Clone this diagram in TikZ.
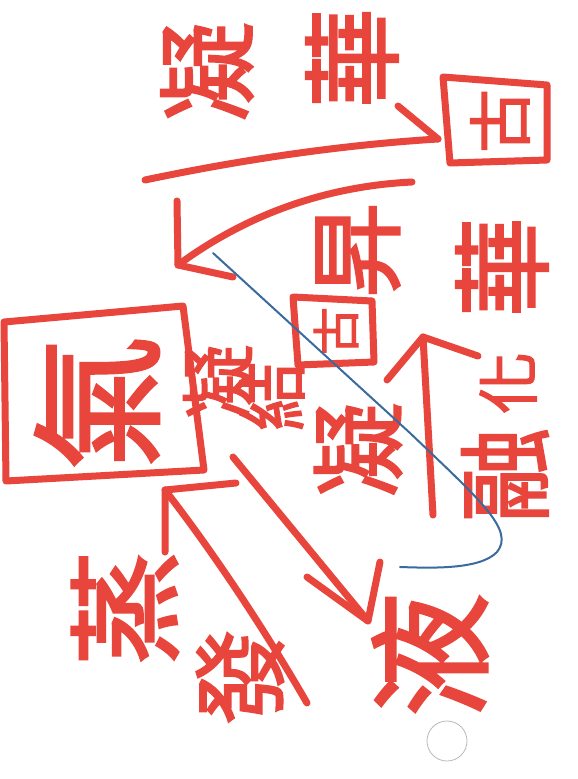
\documentclass[tikz,border=0pt]{standalone}
\usepackage{fontspec}
\newfontfamily\cjk[FakeBold=2]{Noto Sans CJK TC}
\definecolor{pen}{HTML}{E8453C}
\definecolor{bluepen}{HTML}{3A6B9C}
\begin{document}
\begin{tikzpicture}[x=1pt,y=-1pt,
  ink/.style={draw=pen, line width=7pt, line cap=round, line join=round},
  lbl/.style={text=pen, rotate=90, inner sep=0pt, font=\cjk\fontsize{#1}{#1}\selectfont},
  bluestroke/.style={draw=bluepen, line width=2pt, line cap=round}]
\useasboundingbox (0,0) rectangle (578,779);
\fill[white] (0,0) rectangle (578,779);

% solid box (top right)
\node[lbl=64] (solid) at (500,121) {古};
\draw[ink] (443,77) -- (547,85) -- (547,160) -- (450,163) -- cycle;

% gas box (left)
\node[lbl=135] (gas) at (97,403) {氣};
\draw[ink] (4,322) -- (183,306) -- (204,470) -- (6,481) -- cycle;

% liquid
\node[lbl=125] (liquid) at (430,655) {液};

% labels
\node[lbl=100] (ning1) at (207,72) {凝};
\node[lbl=100] (hua1) at (352,58) {華};
\node[lbl=95] (sheng) at (358,250) {昇};
\node[lbl=100] (hua2) at (502,267) {華};
\node[lbl=75] (ning2) at (218,382) {凝};
\node[lbl=70] (jie) at (272,396) {結};
\node[lbl=48] (gu2) at (336,331) {古};
\draw[ink] (293,297) -- (372,301) -- (374,362) -- (298,365) -- cycle;
\node[lbl=95] (ning3) at (358,450) {凝};
\node[lbl=62] (hua3) at (508,383) {化};
\node[lbl=95] (rong) at (505,475) {融};
\node[lbl=115] (zheng) at (125,608) {蒸};
\node[lbl=95] (fa) at (240,677) {發};

% arrow endpoints
\coordinate (t1s) at (145,180);
\coordinate (t1e) at (438,139);
\coordinate (t1b) at (398,106);
\coordinate (t2s) at (412,182);
\coordinate (t2e) at (178,265);
\coordinate (t2b1) at (177,201);
\coordinate (t2b2) at (233,277);
\coordinate (ups) at (433,515);
\coordinate (upe) at (423,337);
\coordinate (upb1) at (387,380);
\coordinate (upb2) at (478,356);
\coordinate (cds) at (233,457);
\coordinate (cde) at (368,621);
\coordinate (cdb1) at (307,577);
\coordinate (cdb2) at (380,562);
\coordinate (evs) at (307,703);
\coordinate (eve) at (165,490);
\coordinate (evb1) at (165,552);
\coordinate (evb2) at (236,483);

% arrows
\draw[ink] (t1s) .. controls (240,160) and (340,145) .. (t1e);
\draw[ink] (t1b) -- (t1e);
\draw[ink] (t2s) .. controls (330,186) and (250,212) .. (t2e);
\draw[ink] (t2b1) -- (t2e) -- (t2b2);
\draw[ink] (ups) -- (upe);
\draw[ink] (upb1) -- (upe) -- (upb2);
\draw[ink] (cds) -- (cde);
\draw[ink] (cdb1) -- (cde) -- (cdb2);
\draw[ink] (evs) .. controls (262,625) and (210,548) .. (eve);
\draw[ink] (evb1) -- (eve) -- (evb2);

% blue pen line
\coordinate (bl1) at (213,253);
\coordinate (bl2) at (410,433);
\coordinate (bl3) at (400,567);
\draw[bluestroke] (bl1) -- (bl2) .. controls (480,500) and (515,530) .. (497,552)
  .. controls (480,570) and (430,568) .. (bl3);

% punch hole
\node[circle, draw=gray!55, line width=0.8pt, minimum size=40pt, inner sep=0pt] (hole) at (447,741) {};
\end{tikzpicture}
\end{document}
